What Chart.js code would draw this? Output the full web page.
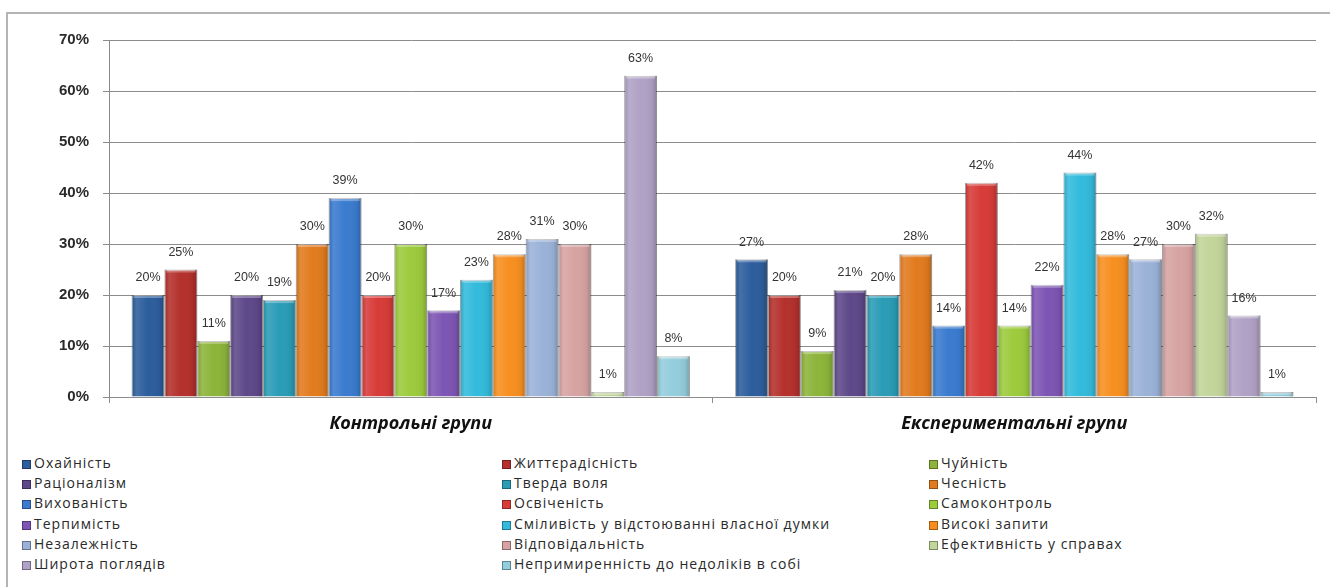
<!DOCTYPE html>
<html>
<head>
<meta charset="utf-8">
<script src="https://cdn.jsdelivr.net/npm/chart.js@4.4.1/dist/chart.umd.min.js"></script>
<style>
  html, body { margin: 0; padding: 0; background: #fff; }
  #wrap { position: relative; width: 1330px; height: 587px; overflow: hidden; }
  #frame {
    position: absolute; left: 6px; top: 12px; width: 1400px; height: 700px;
    border: 2px solid #b4b4b4; box-sizing: border-box;
  }
  #chartBox { position: absolute; left: 0; top: 0; width: 1330px; height: 445px; }
  #legend {
    position: absolute; left: 0; top: 453px; width: 1330px;
    font-family: 'Open Sans', sans-serif; font-size: 14px; color: #2a2a2a;
    letter-spacing: 1px;
  }
  .item { position: absolute; height: 20px; line-height: 20px; white-space: nowrap; }
  .box {
    display: inline-block; width: 9px; height: 9px; margin-right: 3px;
    vertical-align: -1px; border: 1px solid rgba(0,0,0,0.35); box-sizing: border-box;
  }
</style>
</head>
<body>
<div id="wrap">
  <div id="frame"></div>
  <div id="chartBox"><canvas id="chart"></canvas></div>
  <div id="legend"></div>
</div>
<script>
const categories = ['Контрольні групи', 'Експериментальні групи']

const seriesNames = [
  'Охайність',
  'Життєрадісність',
  'Чуйність',
  'Раціоналізм',
  'Тверда воля',
  'Чесність',
  'Вихованість',
  'Освіченість',
  'Самоконтроль',
  'Терпимість',
  'Сміливість у відстоюванні власної думки',
  'Високі запити',
  'Незалежність',
  'Відповідальність',
  'Ефективність у справах',
  'Широта поглядів',
  'Непримиренність до недоліків в собі'
]

// percent values per series, same order as seriesNames
const controlValues = [20, 25, 11, 20, 19, 30, 39, 20, 30, 17, 23, 28, 31, 30, 1, 63, 8]
const experimentValues = [27, 20, 9, 21, 20, 28, 14, 42, 14, 22, 44, 28, 27, 30, 32, 16, 1]

const yTicks = [0, 10, 20, 30, 40, 50, 60, 70]

const seriesColors = [
  '#2c5d9c', // dark blue
  '#b4302c', // dark red
  '#8db43a', // green
  '#5e4889', // purple
  '#2a9cb6', // teal
  '#e27b1e', // orange
  '#3a7bcf', // blue
  '#d73b38', // red
  '#9ccb3c', // light green
  '#7d55b4', // violet
  '#33bbdc', // cyan
  '#f78f20', // light orange
  '#9bb2d8', // pale blue
  '#d6a3a2', // pink
  '#c2d59a', // pale green
  '#b0a1c6', // pale purple
  '#94cddd' // pale cyan
]

const valueLabels = {
  id: 'valueLabels',
  afterDatasetsDraw(chart) {
    const ctx = chart.ctx
    ctx.save()
    ctx.font = '12.5px "Liberation Sans", sans-serif'
    ctx.fillStyle = '#333'
    ctx.textAlign = 'center'
    ctx.textBaseline = 'bottom'
    chart.data.datasets.forEach((ds, i) => {
      chart.getDatasetMeta(i).data.forEach((bar, j) => {
        ctx.fillText(ds.data[j] + '%', bar.x, bar.y - 11)
      })
    })
    ctx.restore()
  }
}

// light sheen on the bars, like the excel 3d look
const barSheen = {
  id: 'barSheen',
  afterDatasetsDraw(chart) {
    const ctx = chart.ctx
    ctx.save()
    chart.data.datasets.forEach((ds, i) => {
      chart.getDatasetMeta(i).data.forEach(bar => {
        const left = bar.x - bar.width / 2
        const g = ctx.createLinearGradient(left, 0, left + bar.width, 0)
        g.addColorStop(0, 'rgba(0,0,0,0.12)')
        g.addColorStop(0.15, 'rgba(255,255,255,0.12)')
        g.addColorStop(0.5, 'rgba(255,255,255,0)')
        g.addColorStop(0.85, 'rgba(0,0,0,0.05)')
        g.addColorStop(1, 'rgba(0,0,0,0.22)')
        ctx.fillStyle = g
        ctx.fillRect(left, bar.y, bar.width, bar.base - bar.y)
        ctx.fillStyle = 'rgba(255,255,255,0.3)'
        ctx.fillRect(left + 2, bar.y, bar.width - 4, Math.min(3, bar.base - bar.y))
      })
    })
    ctx.restore()
  }
}

function buildDatasets() {
  return seriesNames.map((name, i) => ({
    label: name,
    data: [controlValues[i], experimentValues[i]],
    backgroundColor: seriesColors[i],
    borderColor: 'rgba(40,40,40,0.35)',
    borderWidth: 1,
    categoryPercentage: 0.925,
    barPercentage: 1
  }))
}

function buildLegend() {
  const legend = document.getElementById('legend')
  const colX = [22, 502, 929]
  seriesNames.forEach((name, i) => {
    const item = document.createElement('div')
    item.className = 'item'
    item.style.left = colX[i % 3] + 'px'
    item.style.top = Math.floor(i / 3) * 20.2 + 'px'
    const box = document.createElement('span')
    box.className = 'box'
    box.style.background = seriesColors[i]
    item.appendChild(box)
    item.appendChild(document.createTextNode(name))
    legend.appendChild(item)
  })
}

buildLegend()

new Chart(document.getElementById('chart').getContext('2d'), {
  type: 'bar',
  data: {
    labels: categories,
    datasets: buildDatasets()
  },
  plugins: [barSheen, valueLabels],
  options: {
    responsive: true,
    maintainAspectRatio: false,
    animation: false,
    layout: { padding: { left: 0, top: 40, right: 14, bottom: 0 } },
    plugins: {
      legend: { display: false },
      tooltip: { enabled: false }
    },
    scales: {
      x: {
        grid: { display: true, drawOnChartArea: false, tickLength: 6, color: '#8c8c8c', offset: true },
        border: { color: '#8c8c8c', width: 1 },
        ticks: {
          padding: 10,
          color: '#111',
          font: { family: '"Open Sans", sans-serif', size: 18, weight: 'bold', style: 'italic' }
        },
        afterFit(scale) { scale.height = 48 }
      },
      y: {
        min: yTicks[0],
        max: yTicks[yTicks.length - 1],
        afterBuildTicks(scale) { scale.ticks = yTicks.map(v => ({ value: v })) },
        grid: { color: '#8c8c8c', tickLength: 6 },
        border: { color: '#8c8c8c', width: 1 },
        ticks: {
          padding: 14,
          color: '#2a2a2a',
          font: { family: '"Liberation Sans", sans-serif', size: 15, weight: 'bold' },
          callback: v => v + '%'
        },
        afterFit(scale) { scale.width = 109 }
      }
    }
  }
})
</script>
</body>
</html>
